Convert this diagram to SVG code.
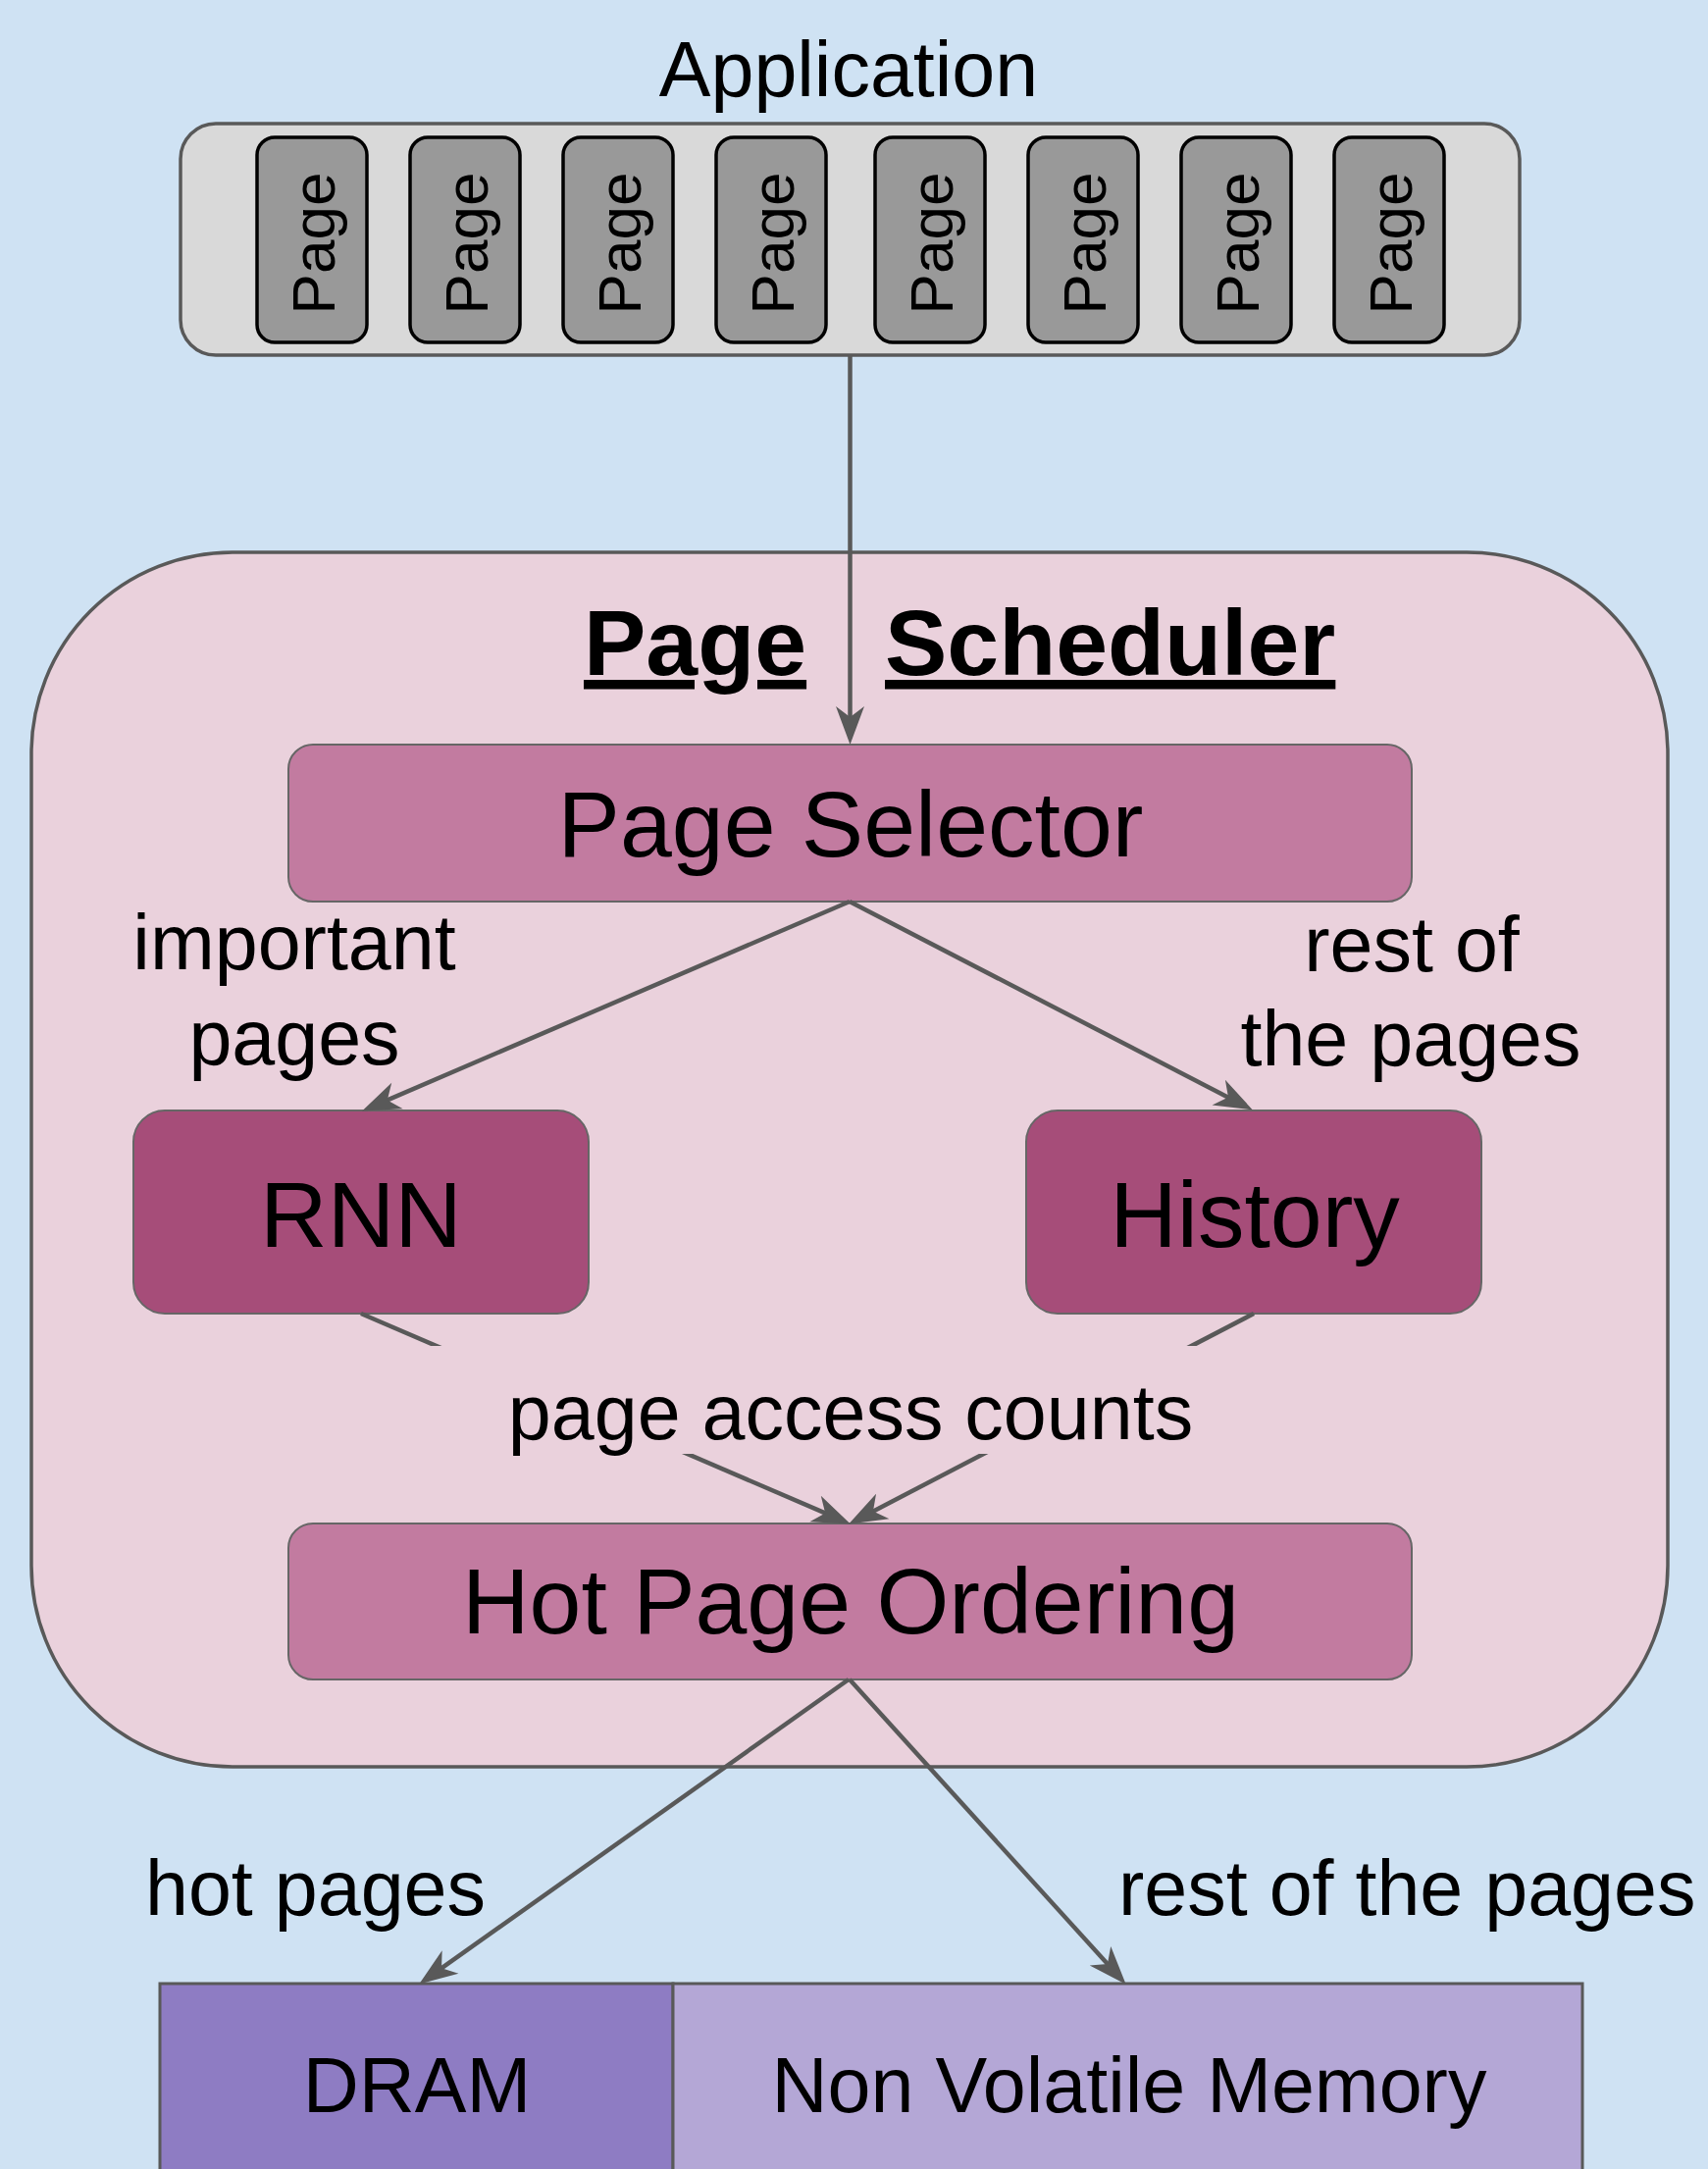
<svg xmlns="http://www.w3.org/2000/svg" width="1741" height="2211" viewBox="0 0 1741 2211">
<style>
text{font-family:"Liberation Sans",Arial,sans-serif;fill:#000}
.big{font-size:95px}
.lbl{font-size:79px}
.pg{font-size:62px}
.pagebox{fill:#999999;stroke:#000;stroke-width:3.5}
.conn{stroke:#595959;stroke-width:4.5;fill:none}
</style>
<defs>
<marker id="ah" markerUnits="userSpaceOnUse" markerWidth="60" markerHeight="40" refX="36" refY="0" orient="auto" viewBox="0 -20 60 40" overflow="visible">
<path d="M47,0 L8,-14.5 L19,0 L8,14.5 Z" fill="#595959"/>
</marker>
</defs>
<rect width="1741" height="2211" fill="#cfe2f3"/>

<g id="application">
<text class="lbl" x="865" y="98" text-anchor="middle">Application</text>
<rect x="184" y="126" width="1365" height="236" rx="36" fill="#d9d9d9" stroke="#595959" stroke-width="3.5"/>
</g>
<g id="page1"><rect class="pagebox" x="262" y="140" width="112" height="209" rx="18"/><text class="pg" transform="translate(341,248) rotate(-90)" text-anchor="middle">Page</text></g>
<g id="page2"><rect class="pagebox" x="418" y="140" width="112" height="209" rx="18"/><text class="pg" transform="translate(497,248) rotate(-90)" text-anchor="middle">Page</text></g>
<g id="page3"><rect class="pagebox" x="574" y="140" width="112" height="209" rx="18"/><text class="pg" transform="translate(653,248) rotate(-90)" text-anchor="middle">Page</text></g>
<g id="page4"><rect class="pagebox" x="730" y="140" width="112" height="209" rx="18"/><text class="pg" transform="translate(809,248) rotate(-90)" text-anchor="middle">Page</text></g>
<g id="page5"><rect class="pagebox" x="892" y="140" width="112" height="209" rx="18"/><text class="pg" transform="translate(971,248) rotate(-90)" text-anchor="middle">Page</text></g>
<g id="page6"><rect class="pagebox" x="1048" y="140" width="112" height="209" rx="18"/><text class="pg" transform="translate(1127,248) rotate(-90)" text-anchor="middle">Page</text></g>
<g id="page7"><rect class="pagebox" x="1204" y="140" width="112" height="209" rx="18"/><text class="pg" transform="translate(1283,248) rotate(-90)" text-anchor="middle">Page</text></g>
<g id="page8"><rect class="pagebox" x="1360" y="140" width="112" height="209" rx="18"/><text class="pg" transform="translate(1439,248) rotate(-90)" text-anchor="middle">Page</text></g>

<g id="page-scheduler">
<rect x="32" y="563" width="1668" height="1238" rx="205" fill="#ead1dc" stroke="#595959" stroke-width="3.5"/>
<text x="595" y="688" font-size="95" font-weight="bold" text-decoration="underline">Page</text>
<text x="902" y="688" font-size="95" font-weight="bold" text-decoration="underline">Scheduler</text>
</g>

<g id="page-selector">
<rect x="294" y="759" width="1145" height="160" rx="25" fill="#c27ba0" stroke="#666666" stroke-width="2"/>
<text class="big" x="867" y="873" text-anchor="middle">Page Selector</text>
</g>

<g id="rnn">
<rect x="136" y="1132" width="464" height="207" rx="32" fill="#a64d79" stroke="#666666" stroke-width="2"/>
<text class="big" x="368" y="1271" text-anchor="middle">RNN</text>
</g>

<g id="history">
<rect x="1046" y="1132" width="464" height="207" rx="32" fill="#a64d79" stroke="#666666" stroke-width="2"/>
<text class="big" x="1279" y="1271" text-anchor="middle">History</text>
</g>

<g id="hot-page-ordering">
<rect x="294" y="1553" width="1145" height="159" rx="25" fill="#c27ba0" stroke="#666666" stroke-width="2"/>
<text class="big" x="867" y="1665" text-anchor="middle">Hot Page Ordering</text>
</g>

<g id="dram">
<rect x="163" y="2022" width="523" height="230" fill="#8e7cc3" stroke="#595959" stroke-width="3"/>
<text font-size="79" x="425" y="2153" text-anchor="middle">DRAM</text>
</g>
<g id="nvm">
<rect x="686" y="2022" width="927" height="230" fill="#b4a7d6" stroke="#595959" stroke-width="3"/>
<text font-size="79" x="1151" y="2153" text-anchor="middle">Non Volatile Memory</text>
</g>

<g id="connectors">
<line class="conn" x1="866.5" y1="362" x2="866.5" y2="748" marker-end="url(#ah)"/>
<line class="conn" x1="866" y1="919" x2="379.2" y2="1128.1" marker-end="url(#ah)"/>
<line class="conn" x1="866" y1="919" x2="1267.1" y2="1126.4" marker-end="url(#ah)"/>
<line class="conn" x1="368" y1="1339" x2="856.8" y2="1549.1" marker-end="url(#ah)"/>
<line class="conn" x1="1278" y1="1339" x2="874.9" y2="1548.4" marker-end="url(#ah)"/>
<line class="conn" x1="865" y1="1712" x2="436.2" y2="2016.2" marker-end="url(#ah)"/>
<line class="conn" x1="866" y1="1712" x2="1140.3" y2="2014.6" marker-end="url(#ah)"/>
</g>

<g id="labels">
<text class="lbl" x="300" y="988" text-anchor="middle">important</text>
<text class="lbl" x="300" y="1085" text-anchor="middle">pages</text>
<text class="lbl" x="1439" y="990" text-anchor="middle">rest of</text>
<text class="lbl" x="1438" y="1086" text-anchor="middle">the pages</text>
<rect x="430" y="1372" width="870" height="110" fill="#ead1dc"/>
<text class="lbl" x="867" y="1467" text-anchor="middle">page access counts</text>
<text class="lbl" x="148" y="1952">hot pages</text>
<text class="lbl" x="1140" y="1952">rest of the pages</text>
</g>
</svg>
